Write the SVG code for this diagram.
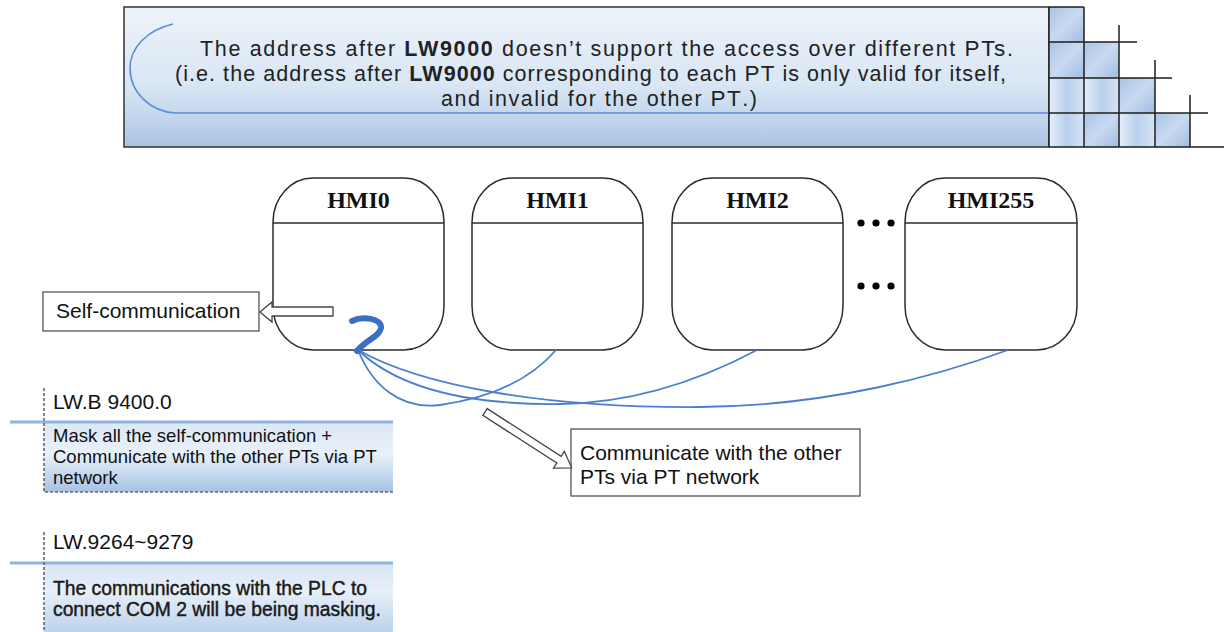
<svg xmlns="http://www.w3.org/2000/svg" width="1224" height="632" viewBox="0 0 1224 632">
  <defs>
    <linearGradient id="bannerG" x1="0" y1="0" x2="0" y2="1">
      <stop offset="0" stop-color="#edf3fa"/>
      <stop offset="0.55" stop-color="#d9e6f4"/>
      <stop offset="0.78" stop-color="#c4d7ee"/>
      <stop offset="1" stop-color="#a9c3e4"/>
    </linearGradient>
    <linearGradient id="cellG" x1="0" y1="0" x2="1" y2="1">
      <stop offset="0" stop-color="#a9c3e6"/>
      <stop offset="0.5" stop-color="#c9daf0"/>
      <stop offset="1" stop-color="#9fbce2"/>
    </linearGradient>
    <linearGradient id="cellG2" x1="0" y1="0" x2="1" y2="0">
      <stop offset="0" stop-color="#e6eff9"/>
      <stop offset="0.5" stop-color="#b9cfec"/>
      <stop offset="1" stop-color="#d6e4f4"/>
    </linearGradient>
    <linearGradient id="panelG" x1="0" y1="0" x2="0" y2="1">
      <stop offset="0" stop-color="#dbe7f5"/>
      <stop offset="0.45" stop-color="#e9f1fa"/>
      <stop offset="1" stop-color="#a7c2e4"/>
    </linearGradient>
    <linearGradient id="panelG2" x1="0" y1="0" x2="0" y2="1">
      <stop offset="0" stop-color="#d6e4f4"/>
      <stop offset="0.4" stop-color="#e8f0f9"/>
      <stop offset="1" stop-color="#bcd2ec"/>
    </linearGradient>
    <style>
      .hmi { fill: #ffffff; stroke: #2b2b2b; stroke-width: 1.5; }
      .div { stroke: #2b2b2b; stroke-width: 1.5; }
      .hmiT { font-family: "Liberation Serif", "Times New Roman", serif; font-weight: bold; font-size: 24px; fill: #111; text-anchor: middle; }
      .ban { font-family: "Liberation Sans", Arial, sans-serif; font-size: 21.5px; fill: #222; }
      .lbl { font-family: "Liberation Sans", Arial, sans-serif; font-size: 21px; fill: #111; }
      .small { font-family: "Liberation Sans", Arial, sans-serif; font-size: 18.5px; fill: #111; }
      .heavy { font-family: "Liberation Sans", Arial, sans-serif; font-size: 19.3px; fill: #1a1a1a; stroke: #1a1a1a; stroke-width: 0.45; }
      .box { fill: #ffffff; stroke: #555; stroke-width: 1.3; }
      .hollow { fill: #ffffff; stroke: #444; stroke-width: 1.3; stroke-linejoin: miter; }
      .link { fill: none; stroke: #4a7fd0; stroke-width: 1.8; }
      .dash { stroke: #666; stroke-width: 1.6; stroke-dasharray: 3 2; fill: none; }
      .bline { stroke: #8db4e2; stroke-width: 3; }
      .grid { stroke: #1e1e1e; stroke-width: 1.5; fill: none; }
      .dot { fill: #000; }
    </style>
  </defs>

  <rect width="1224" height="632" fill="#ffffff"/>

  <!-- Banner -->
  <g id="banner">
    <rect x="124" y="7" width="925" height="140" fill="url(#bannerG)" stroke="#333" stroke-width="1.5"/>
    <path d="M173,24 C147,30 130,48 130,68 C130,92 150,112 176,113 L1049,113" fill="none" stroke="#5a8fd6" stroke-width="1.6"/>
    <text class="ban" x="200" y="55.5" textLength="813" lengthAdjust="spacing">The address after <tspan font-weight="bold">LW9000</tspan> doesn’t support the access over different <tspan font-size="22.5">PTs</tspan>.</text>
    <text class="ban" x="175" y="80.5" textLength="831" lengthAdjust="spacing">(i.e. the address after <tspan font-weight="bold">LW9000</tspan> corresponding to each <tspan font-size="22.5">PT</tspan> is only valid for itself,</text>
    <text class="ban" x="441" y="105.5" textLength="316" lengthAdjust="spacing">and invalid for the other <tspan font-size="22.5">PT</tspan>.)</text>
  </g>

  <!-- Decorative grid -->
  <g id="grid">
    <rect x="1049" y="7" width="35" height="35" fill="url(#cellG)"/>
    <rect x="1049" y="42" width="35" height="36" fill="url(#cellG)"/>
    <rect x="1049" y="78" width="35" height="35" fill="url(#cellG2)"/>
    <rect x="1049" y="113" width="35" height="34" fill="url(#cellG2)"/>
    <rect x="1084" y="42" width="35" height="36" fill="url(#cellG)"/>
    <rect x="1084" y="78" width="35" height="35" fill="url(#cellG2)"/>
    <rect x="1084" y="113" width="35" height="34" fill="url(#cellG)"/>
    <rect x="1119" y="78" width="36" height="35" fill="url(#cellG)"/>
    <rect x="1119" y="113" width="36" height="34" fill="url(#cellG2)"/>
    <rect x="1155" y="113" width="35" height="34" fill="url(#cellG)"/>
    <path class="grid" d="M1049,7 L1084,7 M1049,7 L1049,147 M1084,7 L1084,147 M1119,25 L1119,147 M1155,60 L1155,147 M1190,95 L1190,147 M1049,42 L1137,42 M1049,78 L1172,78 M1049,113 L1208,113 M1049,147 L1224,147"/>
  </g>

  <!-- HMI nodes -->
  <g id="hmi0">
    <rect class="hmi" x="273" y="178" width="171" height="172" rx="40" ry="44"/>
    <line class="div" x1="273" y1="223" x2="444" y2="223"/>
    <text class="hmiT" x="358.5" y="208">HMI0</text>
  </g>
  <g id="hmi1">
    <rect class="hmi" x="472" y="178" width="171" height="172" rx="40" ry="44"/>
    <line class="div" x1="472" y1="223" x2="643" y2="223"/>
    <text class="hmiT" x="557.5" y="208">HMI1</text>
  </g>
  <g id="hmi2">
    <rect class="hmi" x="672" y="178" width="171" height="172" rx="40" ry="44"/>
    <line class="div" x1="672" y1="223" x2="843" y2="223"/>
    <text class="hmiT" x="757.5" y="208">HMI2</text>
  </g>
  <g id="hmi255">
    <rect class="hmi" x="905" y="178" width="172" height="172" rx="40" ry="44"/>
    <line class="div" x1="905" y1="223" x2="1077" y2="223"/>
    <text class="hmiT" x="991" y="208">HMI255</text>
  </g>
  <g id="ellipsis">
    <circle class="dot" cx="861" cy="223" r="3.6"/>
    <circle class="dot" cx="876" cy="223" r="3.6"/>
    <circle class="dot" cx="891" cy="223" r="3.6"/>
    <circle class="dot" cx="861" cy="286" r="3.6"/>
    <circle class="dot" cx="876" cy="286" r="3.6"/>
    <circle class="dot" cx="891" cy="286" r="3.6"/>
  </g>

  <!-- Callout boxes -->
  <g id="self-comm">
    <rect class="box" x="43" y="292" width="216" height="39"/>
    <text class="lbl" x="56" y="318">Self-communication</text>
  </g>
  <g id="other-comm">
    <rect class="box" x="571" y="429" width="289" height="67"/>
    <text class="lbl" x="580" y="460">Communicate with the other</text>
    <text class="lbl" x="580" y="484">PTs via PT network</text>
  </g>

  <!-- Connectors -->
  <g id="connectors">
    <path class="link" d="M358,350 C372,385 400,410 440,405 C490,398 530,380 556,350"/>
    <path class="link" d="M358,350 C400,390 470,405 560,404 C640,403 710,375 757,350"/>
    <path class="link" d="M358,350 C420,385 540,408 700,407 C830,406 940,375 1008,350"/>
    <path d="M352,321 C362,316 382,318 381,328 C380,336 366,340 357,351" fill="none" stroke="#3b6fc6" stroke-width="6" stroke-linecap="round" stroke-linejoin="round"/>
    <polygon class="hollow" points="260,312 272,302 272,307 333,307 333,316 272,316 272,322"/>
    <polygon class="hollow" transform="translate(485,412) rotate(32.8)" points="0,-4 88,-4 88,-10 103,0 88,10 88,4 0,4"/>
  </g>

  <!-- Register panel 1 -->
  <g id="panel-lwb9400">
    <rect x="44" y="422" width="349" height="70" fill="url(#panelG)"/>
    <line class="bline" x1="10" y1="422" x2="393" y2="422"/>
    <path class="dash" d="M44,388 L44,492 L393,492"/>
    <text class="lbl" x="53" y="409" font-size="20.5">LW.B 9400.0</text>
    <text class="small" x="53" y="442">Mask all the self-communication +</text>
    <text class="small" x="53" y="463">Communicate with the other PTs via PT</text>
    <text class="small" x="53" y="484">network</text>
  </g>

  <!-- Register panel 2 -->
  <g id="panel-lw9264">
    <rect x="44" y="563" width="349" height="69" fill="url(#panelG2)"/>
    <line class="bline" x1="10" y1="563" x2="393" y2="563"/>
    <path class="dash" d="M44,532 L44,632"/>
    <text class="lbl" x="53" y="549" font-size="20.5">LW.9264~9279</text>
    <text class="heavy" x="53" y="595">The communications with the PLC to</text>
    <text class="heavy" x="53" y="616">connect COM 2 will be being masking.</text>
  </g>
</svg>
